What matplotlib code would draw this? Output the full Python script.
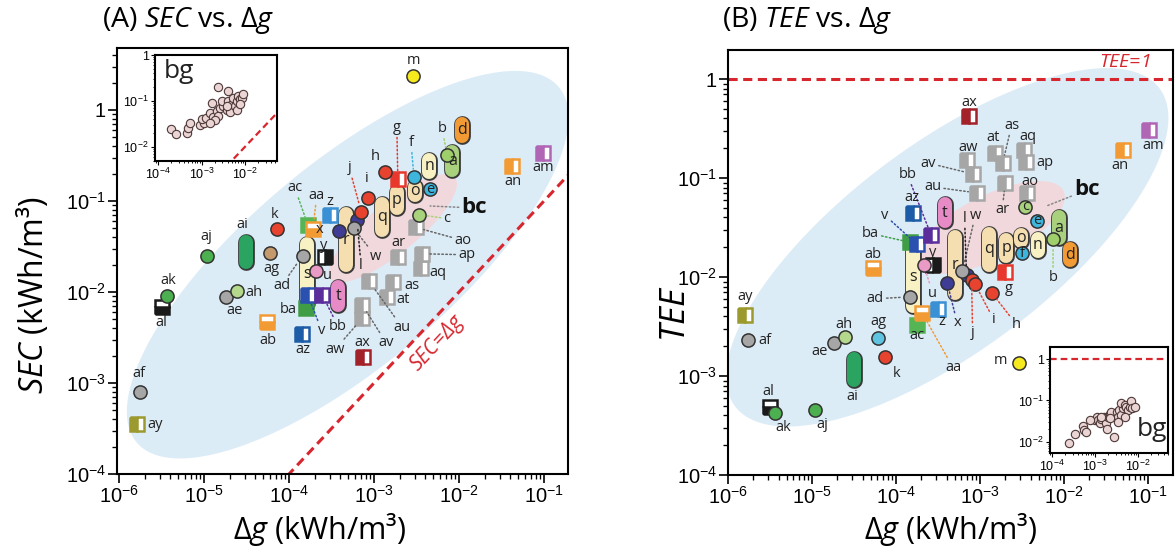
import numpy as np
import matplotlib
matplotlib.use("Agg")
import matplotlib.pyplot as plt
import matplotlib.patheffects as pe
from matplotlib.ticker import LogLocator, NullFormatter

plt.rcParams['font.family'] = ['Open Sans', 'DejaVu Sans']
plt.rcParams['mathtext.fontset'] = 'custom'
plt.rcParams['mathtext.rm'] = 'Open Sans'
plt.rcParams['mathtext.it'] = 'Open Sans:italic'
plt.rcParams['mathtext.bf'] = 'Open Sans:bold'

W, H, DPI = 1176, 550, 100

# ---------------------------------------------------------------------------
# data, all as log10 values (dg and SEC in kWh/m3, TEE dimensionless)
# ---------------------------------------------------------------------------
# panel A -- SEC vs dg
circ_a_names = ['af', 'ak', 'aj', 'ae', 'ah', 'ag', 'k', 'ad', 'u', 'x', 'l', 'w', 'j',
                'i', 'h', 'f', 'c', 'e', 'b', 'm']
circ_a_dg = [-5.75, -5.44, -4.97, -4.74, -4.61, -4.22, -4.14, -3.84, -3.68, -3.41, -3.20,
             -3.24, -3.15, -3.07, -2.87, -2.53, -2.47, -2.34, -2.14, -2.54]
circ_a_sec = [-3.10, -2.04, -1.60, -2.06, -1.99, -1.57, -1.31, -1.60, -1.77, -1.33, -1.21,
              -1.30, -1.12, -0.97, -0.68, -0.74, -1.15, -0.87, -0.50, 0.37]

caps_a_names = ['ai', 's', 't', 'r', 'q', 'p', 'o', 'n', 'a', 'd']
caps_a_dg = [-4.51, -3.79, -3.42, -3.33, -2.91, -2.73, -2.52, -2.35, -2.08, -1.97]
caps_a_lo = [-1.75, -2.20, -2.22, -1.78, -1.40, -1.15, -1.01, -0.76, -0.74, -0.36]
caps_a_hi = [-1.37, -1.40, -1.87, -1.07, -0.96, -0.82, -0.77, -0.47, -0.39, -0.08]

sq_a_names = ['ay', 'al', 'ab', 'az', 'ba', 'v', 'bb', 'y', 'ac', 'aa', 'z', 'ax', 'aw',
              'av', 'au', 'at', 'as', 'aq', 'ap', 'ar', 'ao', 'g', 'an', 'am']
sq_a_dg = [-5.79, -5.49, -4.26, -3.85, -3.80, -3.78, -3.61, -3.58, -3.78, -3.72, -3.52,
           -3.13, -3.14, -3.14, -3.06, -2.85, -2.78, -2.45, -2.44, -2.72, -2.51, -2.72,
           -1.38, -1.01]
sq_a_sec = [-3.45, -2.17, -2.33, -2.46, -2.18, -2.03, -2.03, -1.62, -1.26, -1.31, -1.15,
            -2.71, -2.29, -2.14, -1.88, -2.06, -1.89, -1.74, -1.58, -1.62, -1.29, -0.76,
            -0.62, -0.47]

# inset of panel A (bg points)
bg_a_dg = [-3.71, -3.58, -3.33, -3.31, -3.27, -3.04, -2.95, -2.99, -2.89, -2.81, -2.73,
           -2.77, -2.65, -2.62, -2.58, -2.50, -2.42, -2.54, -2.39, -2.35, -2.31, -2.27,
           -2.23, -2.19, -2.15, -2.12, -2.08, -2.05, -2.42, -2.62, -2.39, -2.19, -2.12,
           -2.69, -2.81]
bg_a_sec = [-1.62, -1.72, -1.69, -1.59, -1.48, -1.53, -1.48, -1.39, -1.38, -1.26, -1.35,
            -1.04, -1.22, -1.32, -1.15, -1.11, -1.19, -1.00, -1.00, -1.24, -1.06, -0.93,
            -1.11, -1.00, -0.89, -0.95, -0.93, -0.85, -1.11, -0.70, -0.78, -1.19, -1.07,
            -1.41, -1.48]

# panel B -- TEE vs dg
circ_b_names = ['af', 'ak', 'aj', 'ae', 'ah', 'ag', 'k', 'ad', 'u', 'x', 'l', 'w', 'j',
                'i', 'h', 'f', 'c', 'e', 'b', 'm']
circ_b_dg = [-5.76, -5.44, -4.96, -4.74, -4.61, -4.21, -4.13, -3.83, -3.67, -3.39, -3.16,
             -3.21, -3.10, -3.06, -2.86, -2.50, -2.46, -2.32, -2.13, -2.54]
circ_b_tee = [-2.64, -3.37, -3.34, -2.67, -2.61, -2.62, -2.81, -2.20, -1.88, -2.06, -1.98,
              -1.94, -2.03, -2.07, -2.16, -1.76, -1.29, -1.43, -1.62, -2.87]

caps_b_names = ['ai', 's', 't', 'r', 'q', 'p', 'o', 'n', 'a', 'd']
caps_b_dg = [-4.50, -3.80, -3.42, -3.30, -2.89, -2.69, -2.51, -2.31, -2.06, -1.93]
caps_b_lo = [-3.11, -2.36, -1.51, -2.23, -1.95, -1.86, -1.71, -1.81, -1.68, -1.90]
caps_b_hi = [-2.76, -1.63, -1.19, -1.53, -1.49, -1.56, -1.50, -1.55, -1.32, -1.65]

sq_b_names = ['ay', 'al', 'ab', 'az', 'ba', 'v', 'bb', 'y', 'ac', 'aa', 'z', 'ax', 'aw',
              'av', 'au', 'at', 'as', 'aq', 'ap', 'ar', 'ao', 'g', 'an', 'am']
sq_b_dg = [-5.80, -5.50, -4.27, -3.80, -3.83, -3.75, -3.58, -3.56, -3.75, -3.69, -3.50,
           -3.13, -3.16, -3.08, -3.04, -2.82, -2.73, -2.48, -2.45, -2.70, -2.44, -2.70,
           -1.30, -0.99]
sq_b_tee = [-2.38, -3.31, -1.91, -1.35, -1.65, -1.67, -1.58, -1.88, -2.48, -2.36, -2.32,
            -0.37, -0.82, -0.96, -1.15, -0.75, -0.85, -0.72, -0.84, -1.05, -1.15, -1.95,
            -0.72, -0.52]

# inset of panel B (bg points)
bg_b_dg = [-3.60, -3.46, -3.27, -3.25, -3.21, -3.00, -2.96, -2.92, -2.89, -2.85, -2.79,
           -2.75, -2.73, -2.69, -2.65, -2.62, -2.55, -2.50, -2.46, -2.45, -2.39, -2.35,
           -2.39, -2.31, -2.27, -2.23, -2.19, -2.17, -2.14, -2.08, -2.31, -2.46, -2.65,
           -2.85, -3.12]
bg_b_tee = [-2.02, -1.81, -1.62, -1.72, -1.76, -1.47, -1.41, -1.47, -1.55, -1.46, -1.41,
            -1.55, -1.70, -1.39, -1.33, -1.27, -1.88, -1.29, -1.39, -1.23, -1.35, -1.19,
            -1.07, -1.11, -1.16, -1.23, -1.15, -1.02, -1.19, -1.16, -1.41, -1.51, -1.43,
            -1.39, -1.47]

# ---------------------------------------------------------------------------
# styling
# ---------------------------------------------------------------------------
GRAY = '#a6a6a6'
COLORS = {
    'a': '#a9d17d', 'b': '#9fcf6a', 'c': '#a8d27c', 'd': '#f29b35', 'e': '#3db5dc',
    'f': '#3db5dc', 'g': '#e8372d', 'h': '#e8432f', 'i': '#e8432f', 'j': '#e8432f',
    'k': '#e8432f', 'l': '#3e3c94', 'm': '#f6ea1f', 'n': '#f8f1c4', 'o': '#f5deb0',
    'p': '#f5deb0', 'q': '#f5deb0', 'r': '#f5deb0', 's': '#f8f1c4', 't': '#e68bc6',
    'u': '#e99ac5', 'v': '#2a50b0', 'w': GRAY, 'x': '#3e3c94', 'y': '#1a1a1a',
    'z': '#3a90d4', 'aa': '#f29b35', 'ab': '#f29b35', 'ac': '#55b555', 'ad': GRAY,
    'ae': GRAY, 'af': GRAY, 'ag': '#c49a6c', 'ah': '#b4d98c', 'ai': '#2aa460',
    'aj': '#4cb050', 'ak': '#4cb050', 'al': '#1a1a1a', 'am': '#b165b5', 'an': '#f29b35',
    'ao': GRAY, 'ap': GRAY, 'aq': GRAY, 'ar': GRAY, 'as': GRAY, 'at': GRAY, 'au': GRAY,
    'av': GRAY, 'aw': GRAY, 'ax': '#a3222a', 'ay': '#9c9a2e', 'az': '#1d5ca6',
    'ba': '#3f9e45', 'bb': '#5c2e9c',
}
COLORS_B = dict(COLORS, ag='#5ec4e2')
FILLSTYLE = {'al': 'bottom', 'ab': 'bottom', 'aa': 'bottom', 'y': 'right',
             'ac': 'full', 'ba': 'full'}
RED = '#d7262e'

# label offsets in pixels from the mark (x right, y up)
LBL_A = {
    'm': (0, 16), 'h': (-10, 15), 'g': (-1, 52), 'f': (-3, 35), 'b': (-5, 27), 'c': (28, -4),
    'i': (-1, 20), 'j': (-12, 44), 'l': (4, -45), 'w': (22, -28), 'x': (-20, 2),
    'k': (-3, 15), 'ag': (1, -16), 'aj': (0, 19), 'ai': (-3, 27), 'ak': (2, 15),
    'al': (-1, -15), 'ah': (17, -1), 'ae': (8, -13), 'ab': (1, -18), 'az': (1, -16),
    'af': (-1, 19), 'ay': (18, -1), 'ax': (-1, 14), 'av': (24, -38), 'aw': (-27, -31),
    'au': (33, -46), 'bb': (16, -32), 'v': (14, -36), 'ba': (-18, -1), 'u': (11, -4),
    'y': (-1, 12), 'ad': (-21, -30), 'ac': (-13, 37), 'aa': (4, 34), 'z': (0, 13),
    'an': (1, -15), 'am': (0, -15), 'ao': (47, -13), 'ar': (1, 15), 'ap': (45, -1),
    'aq': (17, -4), 'as': (19, -4), 'at': (16, -2),
}
LEAD_A = {'g', 'f', 'b', 'c', 'j', 'l', 'w', 'av', 'aw', 'au', 'bb', 'v', 'ad', 'ac',
          'aa', 'ao', 'ap'}
LBL_B = {
    'ax': (0, 13), 'aw': (2, 13), 'av': (-45, 11), 'au': (-44, 6), 'at': (-2, 16),
    'as': (9, 38), 'aq': (4, 14), 'ap': (19, 0), 'ar': (-3, -27), 'ao': (3, 11),
    'b': (0, -38), 'g': (4, -16), 'h': (25, -32), 'i': (19, -36), 'j': (1, -53),
    'w': (13, 56), 'l': (-2, 57), 'x': (10, -40), 'u': (9, -28), 'y': (0, 13),
    'z': (4, -13), 'aa': (31, -55), 'ac': (0, -11), 'ad': (-35, -2), 'ba': (-40, 9),
    'v': (-32, 29), 'bb': (-24, 61), 'az': (-1, 15), 'ab': (0, 14), 'ay': (0, 18),
    'af': (17, 0), 'ah': (-1, 13), 'ae': (-14, -8), 'ag': (0, 17), 'k': (11, -16),
    'ai': (-2, -27), 'al': (-2, 15), 'ak': (8, -15), 'aj': (7, -15), 'm': (-18, 3),
    'an': (-3, -15), 'am': (4, -15),
}
LEAD_B = {'av', 'au', 'as', 'ar', 'b', 'h', 'i', 'j', 'w', 'l', 'x', 'u', 'aa', 'ad',
          'ba', 'v', 'bb'}
INSIDE_A = {'e'}
INSIDE_B = {'e', 'f', 'c'}


def log_ellipse(ax, center, a, b, angle, color, z):
    """Filled ellipse laid out in decade (log10) space."""
    t = np.linspace(0, 2 * np.pi, 300)
    th = np.radians(angle)
    u, v = a * np.cos(t), b * np.sin(t)
    lx = center[0] + u * np.cos(th) - v * np.sin(th)
    ly = center[1] + u * np.sin(th) + v * np.cos(th)
    ax.fill(10 ** lx, 10 ** ly, color=color, lw=0, zorder=z)


def capsule(ax, x, lo, hi, color, width_px=14):
    fwd = ax.transData
    inv = fwd.inverted()
    p0 = fwd.transform((x, lo))
    p1 = fwd.transform((x, hi))
    r = width_px / 2
    y0, y1 = p0[1] + r, p1[1] - r
    if y1 < y0:
        y0 = y1 = (y0 + y1) / 2
    d0 = inv.transform((p0[0], y0))[1]
    d1 = inv.transform((p1[0], y1))[1]
    lw = width_px * 72 / DPI
    ax.plot([x, x], [d0, d1], color=color, lw=lw, solid_capstyle='round', zorder=3,
            path_effects=[pe.Stroke(linewidth=lw + 2.0, foreground='#3a3a3a'), pe.Normal()])


def decade_label(e):
    return '1' if e == 0 else r'$\mathregular{10^{%d}}$' % e


def setup_axes(ax, xlim, ylim, xdec, ydec, size, major=6.5, minor=3.5, width=1.2):
    ax.set_xscale('log')
    ax.set_yscale('log')
    ax.set_xlim(10 ** xlim[0], 10 ** xlim[1])
    ax.set_ylim(10 ** ylim[0], 10 ** ylim[1])
    ax.set_xticks([10.0 ** e for e in xdec], [decade_label(e) for e in xdec])
    ax.set_yticks([10.0 ** e for e in ydec], [decade_label(e) for e in ydec])
    for axis in (ax.xaxis, ax.yaxis):
        axis.set_minor_locator(LogLocator(base=10, subs=np.arange(2, 10), numticks=30))
        axis.set_minor_formatter(NullFormatter())
    ax.tick_params(which='major', direction='out', length=major, width=width,
                   labelsize=size, labelfontfamily='Liberation Sans', pad=1.5)
    ax.tick_params(which='minor', direction='out', length=minor, width=width * 0.8)
    for sp in ax.spines.values():
        sp.set_linewidth(1.5)


def draw_items(ax, circ, caps, sq, colors, labels, leaders, inside):
    pos = {}
    for n, x, lo, hi in zip(*caps):
        capsule(ax, 10 ** x, 10 ** lo, 10 ** hi, colors[n])
        pos[n] = (10 ** x, 10 ** ((lo + hi) / 2))
        if n != 'ai':
            ax.text(10 ** x, 10 ** ((lo + hi) / 2), n, ha='center', va='center',
                    fontsize=11.5, color='#222', zorder=6)
    for n, x, y in zip(*sq):
        c = colors[n]
        ax.plot(10 ** x, 10 ** y, marker='s', ms=10, mfc=c, mfcalt='white', mec=c,
                mew=1.8, fillstyle=FILLSTYLE.get(n, 'left'), ls='none', zorder=4)
        pos[n] = (10 ** x, 10 ** y)
    for n, x, y in zip(*circ):
        ax.plot(10 ** x, 10 ** y, marker='o', ms=9.5, mfc=colors[n], mec='#333',
                mew=1.1, ls='none', zorder=5)
        pos[n] = (10 ** x, 10 ** y)
        if n in inside:
            ax.text(10 ** x, 10 ** y, n, ha='center', va='center', fontsize=10.5,
                    color='#222', zorder=6)
    for n, (dx, dy) in labels.items():
        props = None
        if n in leaders:
            lc = '#666' if colors[n] == GRAY else colors[n]
            if n == 'l':
                lc = '#222'
            props = dict(arrowstyle='-', color=lc, lw=1.1, linestyle=(0, (1, 1.6)),
                         shrinkA=0, shrinkB=6)
        ax.annotate(n, xy=pos[n], xytext=(dx, dy), textcoords='offset pixels',
                    ha='center', va='center', fontsize=10.5, color='#222',
                    arrowprops=props, zorder=7)


def fig_xy(x, y):
    return x / W, 1 - y / H


fig = plt.figure(figsize=(W / DPI, H / DPI), dpi=DPI)

# ---------------- panel A ----------------
ax_a = fig.add_axes([117 / W, (H - 474) / H, (568 - 117) / W, (474 - 48) / H])
setup_axes(ax_a, (-6.024, -0.718), (-4.0, 0.681), range(-6, 0), range(-4, 1), 14.5)
log_ellipse(ax_a, (-3.31, -1.70), 3.16, 1.14, 37.6, '#dcecf7', 0)
log_ellipse(ax_a, (-2.78, -1.30), 0.92, 0.28, 36.8, '#f1d8dc', 0.5)
ax_a.plot([1e-8, 10], [1e-8, 10], color=RED, lw=2.2, ls=(0, (3, 1.8)), zorder=1)
ax_a.text(10 ** -2.26, 10 ** -2.56, 'SEC=Δg', color=RED, fontsize=15, fontstyle='italic',
          rotation=47, ha='center', va='center', rotation_mode='anchor', zorder=2)
draw_items(ax_a, (circ_a_names, circ_a_dg, circ_a_sec),
           (caps_a_names, caps_a_dg, caps_a_lo, caps_a_hi),
           (sq_a_names, sq_a_dg, sq_a_sec), COLORS, LBL_A, LEAD_A, INSIDE_A)
ax_a.annotate('bc', xy=(10 ** -2.34, 10 ** -1.055), xytext=(10 ** -1.82, 10 ** -1.077),
              fontsize=16, fontweight='bold', ha='center', va='center', color='#111',
              arrowprops=dict(arrowstyle='-', color='#888', lw=1.1, linestyle=(0, (1, 1.6)),
                              shrinkA=0, shrinkB=0), zorder=7)

ins_a = fig.add_axes([155 / W, (H - 161) / H, 122 / W, 106 / H])
setup_axes(ins_a, (-4.07, -1.264), (-2.31, 0.0), range(-4, -1), range(-2, 1), 9,
           major=3, minor=1.5, width=0.8)
ins_a.plot([1e-8, 10], [1e-8, 10], color=RED, lw=1.6, ls=(0, (3, 1.8)), zorder=1)
ins_a.plot(10 ** np.array(bg_a_dg), 10 ** np.array(bg_a_sec), 'o', ms=6, mfc='#ead4d4',
           mec='#4d3838', mew=0.8, ls='none', zorder=3)
ins_a.text(0.2, 0.84, 'bg', transform=ins_a.transAxes, fontsize=19, ha='center',
           va='center', color='#222')

fig.text(*fig_xy(102, 20), '(A) $SEC$ vs. Δ$g$', fontsize=20.5, ha='left', va='center')
fig.text(*fig_xy(320, 530), 'Δ$g$ (kWh/m³)', fontsize=22, ha='center', va='center')
fig.text(*fig_xy(33, 295), '$SEC$ (kWh/m³)', fontsize=23, ha='center', va='center',
         rotation=90)

# ---------------- panel B ----------------
ax_b = fig.add_axes([728 / W, (H - 475) / H, (1173 - 728) / W, (475 - 50) / H])
setup_axes(ax_b, (-6.0, -0.702), (-4.0, 0.293), range(-6, 0), range(-4, 1), 14.5)
log_ellipse(ax_b, (-3.39, -1.70), 3.0, 1.1, 31.0, '#dcecf7', 0)
log_ellipse(ax_b, (-2.88, -1.50), 0.95, 0.33, 22.0, '#f1d8dc', 0.5)
ax_b.axhline(1, color=RED, lw=2.2, ls=(0, (3, 1.8)), zorder=1)
ax_b.text(10 ** -1.274, 10 ** 0.172, '$TEE$=1', color=RED, fontsize=14,
          fontstyle='italic', ha='center', va='center')
draw_items(ax_b, (circ_b_names, circ_b_dg, circ_b_tee),
           (caps_b_names, caps_b_dg, caps_b_lo, caps_b_hi),
           (sq_b_names, sq_b_dg, sq_b_tee), COLORS_B, LBL_B, LEAD_B, INSIDE_B)
ax_b.annotate('bc', xy=(10 ** -2.20, 10 ** -1.28), xytext=(10 ** -1.726, 10 ** -1.121),
              fontsize=16, fontweight='bold', ha='center', va='center', color='#111',
              arrowprops=dict(arrowstyle='-', color='#888', lw=1.1, linestyle=(0, (1, 1.6)),
                              shrinkA=0, shrinkB=0), zorder=7)

ins_b = fig.add_axes([1050 / W, (H - 453) / H, 118 / W, 106 / H])
setup_axes(ins_b, (-4.05, -1.30), (-2.27, 0.29), range(-4, -1), range(-2, 1), 9,
           major=3, minor=1.5, width=0.8)
ins_b.axhline(1, color=RED, lw=1.6, ls=(0, (3, 1.8)), zorder=1)
ins_b.plot(10 ** np.array(bg_b_dg), 10 ** np.array(bg_b_tee), 'o', ms=6, mfc='#ead4d4',
           mec='#4d3838', mew=0.8, ls='none', zorder=3)
ins_b.text(0.86, 0.22, 'bg', transform=ins_b.transAxes, fontsize=19, ha='center',
           va='center', color='#222')

fig.text(*fig_xy(722, 20), '(B) $TEE$ vs. Δ$g$', fontsize=20.5, ha='left', va='center')
fig.text(*fig_xy(951, 530), 'Δ$g$ (kWh/m³)', fontsize=22, ha='center', va='center')
fig.text(*fig_xy(676, 314), '$TEE$', fontsize=25, ha='center', va='center', rotation=90)

fig.savefig('out.png', dpi=DPI)
